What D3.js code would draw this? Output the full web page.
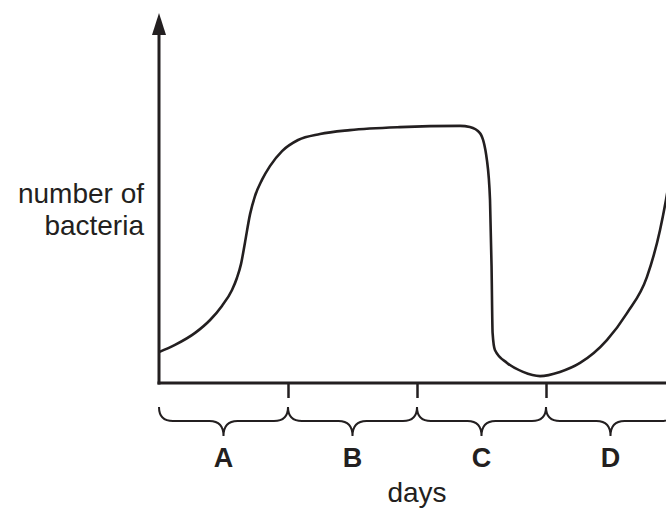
<!DOCTYPE html>
<html>
<head>
<meta charset="utf-8">
<script src="https://cdn.jsdelivr.net/npm/d3@7"></script>
<style>
  body { margin: 0; background: #fff; }
  text { font-family: "Liberation Sans", Arial, Helvetica, sans-serif; fill: #231f20; }
</style>
</head>
<body>
<div class="chart"></div>
<script>
// Define SVG dimensions.
var w = 666,
    h = 508;

var ink = "#231f20";

// Curve (days, relative number of bacteria).
var days   = [0, 0.62, 1.4, 1.98, 2.44, 2.83, 3.02, 3.18, 3.33, 3.53, 3.72, 3.99, 4.3, 4.77, 5.39,
              6.24, 7.4, 9.34, 11.67, 12.05, 12.44, 12.71, 12.83, 12.89, 12.93, 13.02, 13.49, 14.11,
              14.77, 15.54, 16.32, 17.36, 18.14, 18.91, 19.42, 19.65, 19.9];
var counts = [10.3, 12.7, 16.7, 21, 25.7, 31, 35, 39.7, 46.7, 56.3, 62.3, 67.7, 72.3, 77.3, 81,
              83, 84.3, 85.3, 85.7, 85.3, 83.3, 74.3, 61, 38.7, 16.7, 11, 6.7, 3.7,
              2.3, 3.7, 6.7, 14.3, 23.3, 35.3, 51, 61, 74];

// Phase boundaries and labels.
var phaseBounds = [0, 5, 10, 15, 20];
var phaseLabels = ["A", "B", "C", "D"];
var tickDays = [5, 10, 15];

var svg = d3.select(".chart").append("svg")
  .attr("width", w)
  .attr("height", h);

var xScale = d3.scaleLinear()
  .domain([0, 20])
  .range([159, 675]);

var yScale = d3.scaleLinear()
  .domain([0, 116])
  .range([383, 35]);

// Arrow head for the y axis.
svg.append("defs").append("marker")
  .attr("id", "arrow")
  .attr("viewBox", "0 0 22 14")
  .attr("refX", 0)
  .attr("refY", 7)
  .attr("markerWidth", 22)
  .attr("markerHeight", 14)
  .attr("markerUnits", "userSpaceOnUse")
  .attr("orient", "auto")
  .append("path")
  .attr("d", "M0,0 L22,7 L0,14 Z")
  .attr("fill", ink);

// Curve.
var line = d3.line()
  .x(function(d, i) { return xScale(d); })
  .y(function(d, i) { return yScale(counts[i]); })
  .curve(d3.curveMonotoneX);

svg.append("path")
  .attr("d", line(days))
  .attr("fill", "none")
  .attr("stroke", ink)
  .attr("stroke-width", 2.6);

// X axis with phase ticks, no labels.
var xAxis = d3.axisBottom(xScale)
  .tickValues(tickDays)
  .tickSizeInner(15)
  .tickSizeOuter(0)
  .tickFormat("");

var gx = svg.append("g")
  .attr("transform", "translate(0," + yScale(0) + ")")
  .call(xAxis);
gx.select(".domain").attr("stroke", ink).attr("stroke-width", 3)
  .attr("d", "M" + (xScale(0) - 1.5) + ",0H" + xScale(20));
gx.selectAll(".tick line").attr("stroke", ink).attr("stroke-width", 2.5);

// Y axis: line with arrow.
var yAxis = d3.axisLeft(yScale).tickValues([]).tickSizeOuter(0);
var gy = svg.append("g")
  .attr("transform", "translate(" + xScale(0) + ",0)")
  .call(yAxis);
gy.select(".domain")
  .attr("d", "M0," + (yScale(0) + 1.5) + "V" + yScale(116))
  .attr("stroke", ink)
  .attr("stroke-width", 3)
  .attr("marker-end", "url(#arrow)");

// Braces under each phase.
var yTop = 407, yMid = 421, yTip = 436, r = 14;
function brace(x0, x1) {
  var cx = (x0 + x1) / 2;
  return "M" + x0 + "," + yTop +
    "Q" + x0 + "," + yMid + " " + (x0 + r) + "," + yMid +
    "L" + (cx - r) + "," + yMid +
    "Q" + cx + "," + yMid + " " + cx + "," + yTip +
    "Q" + cx + "," + yMid + " " + (cx + r) + "," + yMid +
    "L" + (x1 - r) + "," + yMid +
    "Q" + x1 + "," + yMid + " " + x1 + "," + yTop;
}

svg.selectAll(".brace")
  .data(phaseLabels)
  .enter()
  .append("path")
  .attr("class", "brace")
  .attr("d", function(d, i) { return brace(xScale(phaseBounds[i]), xScale(phaseBounds[i + 1])); })
  .attr("fill", "none")
  .attr("stroke", ink)
  .attr("stroke-width", 2);

svg.selectAll(".phase")
  .data(phaseLabels)
  .enter()
  .append("text")
  .attr("class", "phase")
  .attr("x", function(d, i) { return (xScale(phaseBounds[i]) + xScale(phaseBounds[i + 1])) / 2; })
  .attr("y", 467)
  .style("text-anchor", "middle")
  .style("font-size", "27px")
  .style("font-weight", "bold")
  .text(function(d) { return d; });

// Axis titles.
svg.append("text")
  .attr("x", xScale(10))
  .attr("y", 502)
  .style("text-anchor", "middle")
  .style("font-size", "28px")
  .text("days");

svg.append("text")
  .attr("x", 144)
  .attr("y", 203)
  .style("text-anchor", "end")
  .style("font-size", "28px")
  .text("number of");

svg.append("text")
  .attr("x", 144)
  .attr("y", 235)
  .style("text-anchor", "end")
  .style("font-size", "28px")
  .text("bacteria");
</script>
</body>
</html>
